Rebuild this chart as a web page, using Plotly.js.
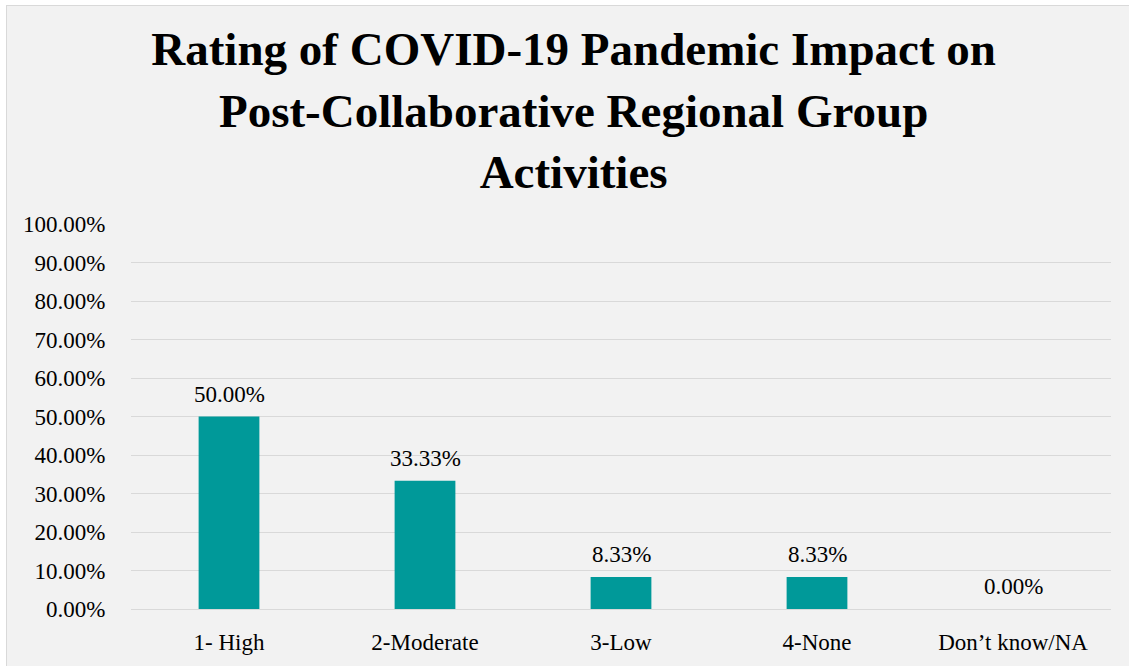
<!DOCTYPE html>
<html>
<head>
<meta charset="utf-8">
<script src="https://cdn.plot.ly/plotly-3.0.1.min.js"></script>
<style>
  html, body { margin:0; padding:0; background:#ffffff; }
  #frame { position:absolute; left:6px; top:5px; width:1123px; height:661px; box-sizing:border-box;
           border-left:1px solid #d9d9d9; border-top:1px solid #d9d9d9; background:#f2f2f2; }
  #chart { width:1122px; height:660px; }
</style>
</head>
<body>
<div id="frame"><div id="chart"></div></div>
<script>
const categories = ["1- High", "2-Moderate", "3-Low", "4-None", "Don\u2019t know/NA"];
const values = [0.5, 0.3333, 0.0833, 0.0833, 0.0];
const labels = ["50.00%", "33.33%", "8.33%", "8.33%", "0.00%"];
const yTicks = [0, 0.1, 0.2, 0.3, 0.4, 0.5, 0.6, 0.7, 0.8, 0.9, 1.0];
const yTickText = ["0.00%", "10.00%", "20.00%", "30.00%", "40.00%", "50.00%", "60.00%", "70.00%", "80.00%", "90.00%", "100.00%"];
const titleText = "Rating of COVID-19 Pandemic Impact on<br>Post-Collaborative Regional Group<br>Activities";

const font = "Liberation Serif, Times New Roman, serif";

const trace = {
  type: "bar",
  x: categories,
  y: values,
  marker: { color: "#009999", line: { width: 0 } },
  width: 0.31,
  hoverinfo: "skip"
};

const annotations = categories.map((c, i) => ({
  x: c, y: values[i], xref: "x", yref: "y",
  text: labels[i], showarrow: false,
  yanchor: "bottom", yshift: 8,
  font: { family: font, size: 23, color: "#000" }
}));

const layout = {
  width: 1122, height: 660,
  paper_bgcolor: "#f2f2f2", plot_bgcolor: "#f2f2f2",
  margin: { l: 124, r: 18, t: 218, b: 57 },
  title: {
    text: titleText,
    x: 0.505, xref: "container", xanchor: "center",
    y: 0.91, yref: "container", yanchor: "bottom",
    pad: { b: 0 },
    font: { family: font, size: 47, color: "#000", weight: "bold" }
  },
  xaxis: {
    type: "category",
    tickfont: { family: font, size: 23, color: "#000" },
    ticks: "outside", ticklen: 12, tickcolor: "rgba(0,0,0,0)",
    showgrid: false, zeroline: false, showline: false
  },
  yaxis: {
    range: [0, 1],
    tickvals: yTicks, ticktext: yTickText,
    tickfont: { family: font, size: 23, color: "#000" },
    ticks: "outside", ticklen: 20, tickcolor: "rgba(0,0,0,0)",
    gridcolor: "#d9d9d9", gridwidth: 1,
    zeroline: true, zerolinecolor: "#d9d9d9", zerolinewidth: 1,
    showline: false, fixedrange: true
  },
  annotations: annotations,
  showlegend: false,
  bargap: 0.69
};

Plotly.newPlot("chart", [trace], layout, { displayModeBar: false, staticPlot: true });
</script>
</body>
</html>
